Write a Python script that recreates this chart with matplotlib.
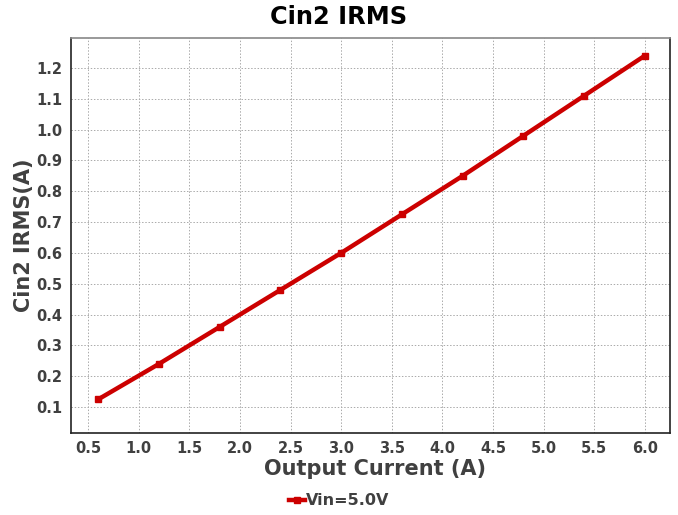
import matplotlib
matplotlib.use("Agg")
import matplotlib.pyplot as plt

# data
output_current = [0.6, 1.2, 1.8, 2.4, 3.0, 3.6, 4.2, 4.8, 5.4, 6.0]
cin2_irms = [0.125, 0.24, 0.36, 0.48, 0.60, 0.725, 0.85, 0.98, 1.11, 1.24]
x_ticks = [0.5, 1.0, 1.5, 2.0, 2.5, 3.0, 3.5, 4.0, 4.5, 5.0, 5.5, 6.0]
y_ticks = [0.1, 0.2, 0.3, 0.4, 0.5, 0.6, 0.7, 0.8, 0.9, 1.0, 1.1, 1.2]

text_color = '#404040'

fig = plt.figure(figsize=(6.78, 5.15), dpi=100)
ax = fig.add_axes([71 / 678, 1 - 433 / 515, 599 / 678, 395 / 515])

ax.plot(output_current, cin2_irms, color='#cc0000', linewidth=3.2,
        marker='s', markersize=5, label='Vin=5.0V')

ax.set_xlim(0.332, 6.247)
ax.set_ylim(0.016, 1.297)
ax.set_xticks(x_ticks)
ax.set_xticklabels(['%.1f' % t for t in x_ticks])
ax.set_yticks(y_ticks)
ax.set_yticklabels(['%.1f' % t for t in y_ticks])
ax.tick_params(axis='x', length=0, pad=6, labelsize=10.5, labelcolor=text_color)
ax.tick_params(axis='y', length=0, pad=6.5, labelsize=10.5, labelcolor=text_color)
for lbl in ax.get_xticklabels() + ax.get_yticklabels():
    lbl.set_fontweight('bold')

ax.grid(True, linestyle=(0, (1.5, 1.8)), color='#aaaaaa', linewidth=0.7)
for side in ['left', 'bottom', 'right']:
    ax.spines[side].set_color('#222222')
    ax.spines[side].set_linewidth(1.2)
ax.spines['top'].set_color('#888888')
ax.spines['top'].set_linewidth(1.2)

# title is centred on the figure, not the axes
fig.text(0.5, 1 - 17 / 515, 'Cin2 IRMS', fontsize=17.3, fontweight='bold',
         ha='center', va='center')
ax.set_xlabel('Output Current (A)', fontsize=15, fontweight='bold',
              color=text_color, va='center')
ax.xaxis.set_label_coords((375 - 71) / 599, (433 - 469) / 395)
ax.set_ylabel('Cin2 IRMS(A)', fontsize=15, fontweight='bold',
              color=text_color, va='center')
ax.yaxis.set_label_coords((24 - 71) / 599, 0.5)

leg = fig.legend(loc='lower center', bbox_to_anchor=(0.5, -0.015), frameon=False,
                 handlelength=1.0, handletextpad=0.1, fontsize=11.5)
for t in leg.get_texts():
    t.set_fontweight('bold')
    t.set_color(text_color)

fig.savefig('out.png', dpi=100)
